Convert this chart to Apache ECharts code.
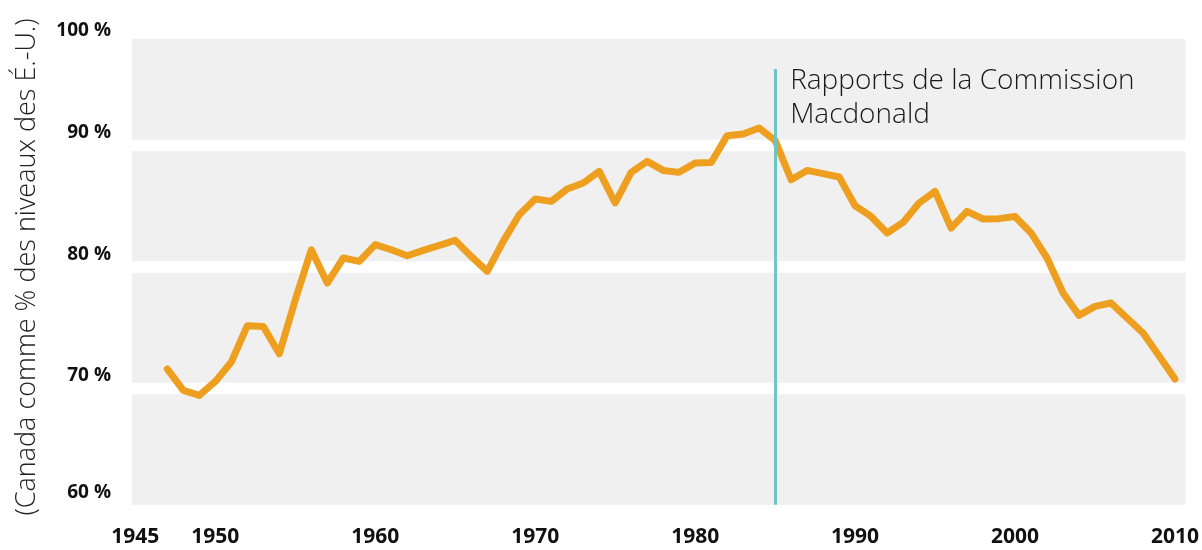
<!DOCTYPE html>
<html>
<head>
<meta charset="utf-8">
<script src="https://cdn.jsdelivr.net/npm/echarts@6/dist/echarts.min.js"></script>
</head>
<body style="margin:0">
<div id="container" style="width:1202px;height:550px"></div>
<script>
// Canada's productivity as % of US levels, 1947-2010
var years = [1947, 1948, 1949, 1950, 1951, 1952, 1953, 1954, 1955, 1956,
  1957, 1958, 1959, 1960, 1961, 1962, 1963, 1964, 1965, 1966,
  1967, 1968, 1969, 1970, 1971, 1972, 1973, 1974, 1975, 1976,
  1977, 1978, 1979, 1980, 1981, 1982, 1983, 1984, 1985, 1986,
  1987, 1988, 1989, 1990, 1991, 1992, 1993, 1994, 1995, 1996,
  1997, 1998, 1999, 2000, 2001, 2002, 2003, 2004, 2005, 2006,
  2007, 2008, 2009, 2010];
var ratio = [71.6, 69.84, 69.43, 70.58, 72.18, 75.17, 75.1, 72.86, 77.31, 81.42,
  78.68, 80.74, 80.46, 81.84, 81.42, 80.93, 81.37, 81.78, 82.19, 80.87,
  79.64, 82.11, 84.3, 85.6, 85.4, 86.42, 86.91, 87.87, 85.27, 87.79,
  88.69, 87.95, 87.79, 88.56, 88.6, 90.81, 90.95, 91.44, 90.42, 87.18,
  87.95, 87.68, 87.41, 85.04, 84.16, 82.8, 83.67, 85.27, 86.22, 83.21,
  84.58, 83.95, 83.98, 84.16, 82.8, 80.74, 77.86, 76.02, 76.76, 77.04,
  75.8, 74.57, 72.7, 70.78];
var xTicks = [1945, 1950, 1960, 1970, 1980, 1990, 2000, 2010];
// grey background bands (value ranges)
var bands = [[60.44, 69.53], [70.47, 79.53], [80.47, 89.53], [90.47, 98.77]];
var reportYear = 1985;
var reportTop = 96.3;
var reportText = 'Rapports de la Commission\nMacdonald';
var yTitle = '(Canada comme % des niveaux des É.-U.)';

var myChart = echarts.init(document.getElementById('container'));

var tickFont = { fontSize: 19, fontWeight: 'bold', fontFamily: 'Open Sans', color: '#111' };

var option = {
  backgroundColor: '#fff',
  animation: false,
  grid: { left: 132, right: 13, top: 24, bottom: 40 },
  xAxis: {
    type: 'value',
    min: 1944.79,
    max: 2010.65,
    axisLine: { show: false },
    axisTick: { show: false },
    splitLine: { show: false },
    axisLabel: {
      customValues: xTicks,
      formatter: function (v) { return String(v); },
      margin: 17,
      fontSize: 21,
      fontWeight: 'bold',
      fontFamily: 'Open Sans',
      color: '#111'
    }
  },
  yAxis: {
    type: 'value',
    min: 60,
    max: 100,
    interval: 10,
    name: yTitle,
    nameLocation: 'middle',
    nameGap: 91,
    nameTextStyle: { fontSize: 27, fontWeight: 300, fontFamily: 'Open Sans', color: '#222' },
    axisLine: { show: false },
    axisTick: { show: false },
    splitLine: { show: false },
    axisLabel: {
      margin: 21,
      formatter: function (v) {
        if (v === 100) return '{a|100 %}';
        if (v === 60) return '{b|60 %}';
        return '{m|' + v + ' %}';
      },
      rich: {
        a: Object.assign({ padding: [14, 0, 0, 0] }, tickFont),
        m: Object.assign({ padding: [0, 0, 25, 0] }, tickFont),
        b: Object.assign({ padding: [0, 0, 34, 0] }, tickFont)
      }
    }
  },
  series: [{
    type: 'line',
    data: years.map(function (y, i) { return [y, ratio[i]]; }),
    showSymbol: false,
    z: 3,
    lineStyle: { color: '#ee9f1f', width: 7, cap: 'round', join: 'round' },
    markArea: {
      silent: true,
      itemStyle: { color: '#f0f0f0' },
      data: bands.map(function (b) { return [{ yAxis: b[0] }, { yAxis: b[1] }]; })
    },
    markLine: {
      silent: true,
      symbol: 'none',
      lineStyle: { color: '#6cc7c4', width: 3, type: 'solid' },
      label: {
        show: true,
        position: 'start',
        distance: 0,
        align: 'left',
        verticalAlign: 'top',
        offset: [15, -5],
        formatter: reportText,
        fontSize: 28,
        fontWeight: 300,
        lineHeight: 34,
        fontFamily: 'Open Sans',
        color: '#1a1a1a'
      },
      data: [[{ coord: [reportYear, reportTop] }, { coord: [reportYear, bands[0][0]] }]]
    }
  }]
};

myChart.setOption(option);
</script>
</body>
</html>
